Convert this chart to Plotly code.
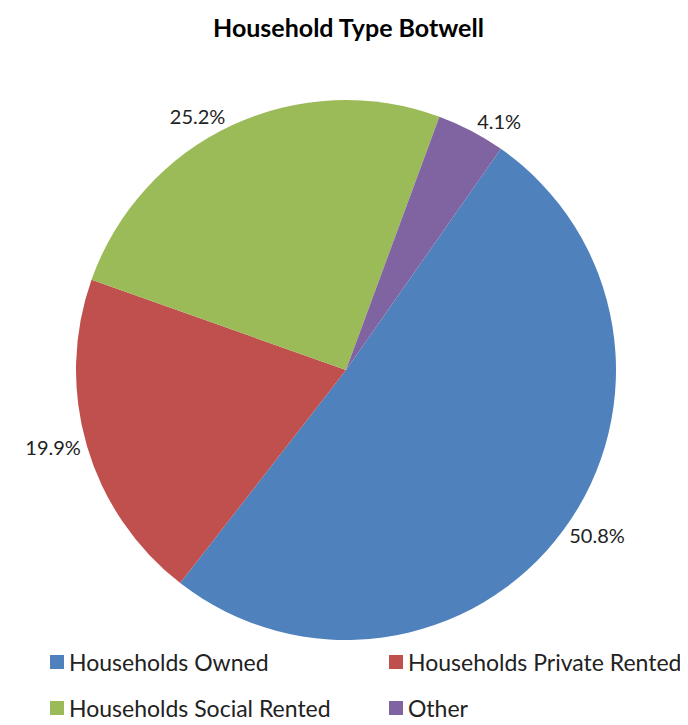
import plotly.graph_objects as go

labels = ["Households Owned", "Households Private Rented", "Households Social Rented", "Other"]
values = [50.8, 19.9, 25.2, 4.1]
colors = ["#4F81BD", "#C0504D", "#9BBB59", "#8064A2"]

# page offset of 8px (body margin); figure sized so nothing is cut
OFF = 8
W, H = 680, 717
cx, cy, r = 346, 370, 270  # target screenshot pixels


def px(x):
    return (x - OFF) / W


def py(y):
    return 1 - (y - OFF) / H


fig = go.Figure(go.Pie(
    labels=labels,
    values=values,
    sort=False,
    direction="clockwise",
    rotation=35,
    marker=dict(colors=colors, line=dict(width=0)),
    textinfo="percent",
    texttemplate="%{percent:.1%}",
    textposition="outside",
    outsidetextfont=dict(size=20, color="#222222", family="Lato"),
    domain=dict(x=[px(cx - r), px(cx + r)], y=[py(cy + r), py(cy - r)]),
    showlegend=False,
))

# legend drawn as 2x2 grid
leg_x = [50, 389]
leg_y = [662, 708]
for i, (lab, col) in enumerate(zip(labels, colors)):
    x0 = leg_x[i % 2]
    y0 = leg_y[i // 2]
    fig.add_shape(type="rect", xref="paper", yref="paper",
                  x0=px(x0), x1=px(x0 + 14), y0=py(y0 + 7), y1=py(y0 - 7),
                  fillcolor=col, line=dict(width=0))
    fig.add_annotation(text=lab, xref="paper", yref="paper", x=px(x0 + 17), y=py(y0),
                       xanchor="left", yanchor="middle", showarrow=False,
                       font=dict(size=23, color="#222222", family="Lato"))

fig.add_annotation(text="<b>Household Type Botwell</b>", xref="paper", yref="paper",
                   x=px(348), y=py(10), xanchor="center", yanchor="top", showarrow=False,
                   font=dict(size=25, color="black", family="Lato"))

fig.update_layout(
    width=W, height=H,
    margin=dict(l=0, r=0, t=0, b=0),
    paper_bgcolor="white",
    plot_bgcolor="white",
    font=dict(family="Lato", color="#222222"),
)

fig.write_html("out.html")
